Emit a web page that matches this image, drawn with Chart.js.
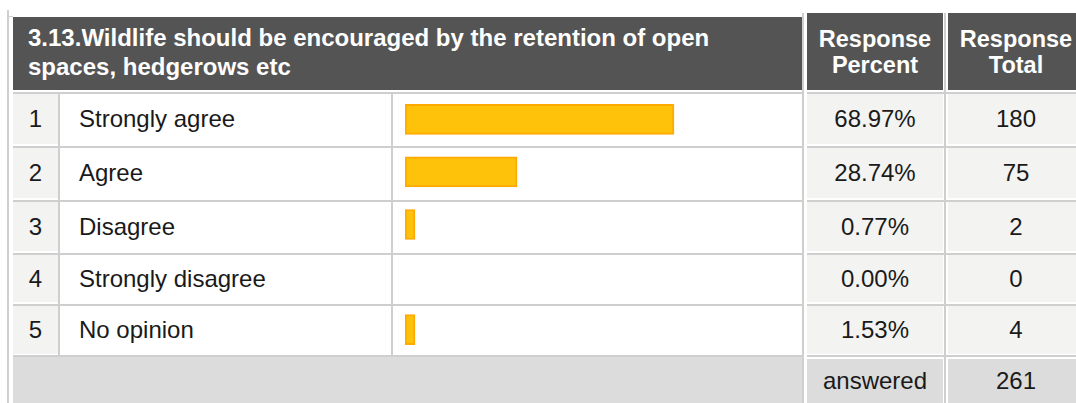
<!DOCTYPE html>
<html>
<head>
<meta charset="utf-8">
<title>3.13 Wildlife</title>
<script src="https://cdn.jsdelivr.net/npm/chart.js@4.4.1/dist/chart.umd.min.js"></script>
<style>
  html, body { margin: 0; padding: 0; background: #ffffff; }
  body { width: 1076px; height: 403px; overflow: hidden; position: relative;
         font-family: "Liberation Sans", Arial, sans-serif; color: #1a1a1a; }
  .abs { position: absolute; box-sizing: border-box; }
  .line { position: absolute; background: #cfcfcf; }
  .head { background: #545454; color: #ffffff; font-weight: bold; font-size: 23.5px; line-height: 26px; }
  .head-col { display: flex; align-items: center; justify-content: center; text-align: center; }
  .cell { display: flex; align-items: center; font-size: 24px; }
  .center { justify-content: center; }
  .grey { background: #f3f3f2; }
  .foot { background: #dcdcdc; }
  #bar-wrap { position: absolute; left: 393px; top: 93px; width: 410px; height: 263px; }
</style>
</head>
<body>
<div id="table"></div>
<div id="bar-wrap"><canvas id="chart-bars"></canvas></div>
<script>
'use strict';

// ---- datos de la pregunta ----
const questionTitle = ['3.13.Wildlife should be encouraged by the retention of open', 'spaces, hedgerows etc'];
const headerPercent = ['Response', 'Percent'];
const headerTotal = ['Response', 'Total'];
const answerLabels = ['Strongly agree', 'Agree', 'Disagree', 'Strongly disagree', 'No opinion'];
const responsePercents = [68.97, 28.74, 0.77, 0.00, 1.53];
const responseTotals = [180, 75, 2, 0, 4];
const answeredLabel = 'answered';
const answeredCount = 261;

// ---- layout de la tabla (px) ----
const rowTops = [94, 148, 202, 255, 306];
const rowHeights = [50, 50, 49, 47, 48];
const footTop = 357;

function addBox(cls, left, top, width, height, html) {
  const el = document.createElement('div');
  el.className = cls;
  el.style.left = left + 'px';
  el.style.top = top + 'px';
  el.style.width = width + 'px';
  el.style.height = height + 'px';
  if (html !== undefined) el.innerHTML = html;
  document.getElementById('table').appendChild(el);
  return el;
}

function construirTabla() {
  // bordes exteriores y separadores verticales
  addBox('line', 7, 10, 2, 393);
  addBox('line', 7, 16, 6, 1);
  addBox('line', 802, 13, 2, 390);
  addBox('line', 944, 13, 2, 390);

  // cabeceras
  const title = addBox('abs head', 13, 17, 789, 73, questionTitle.join('<br>'));
  title.style.padding = '6px 0 0 15px';
  title.style.fontSize = '24px';
  title.style.lineHeight = '29px';
  addBox('abs head head-col', 807, 13, 136, 77, headerPercent.join('<br>'));
  addBox('abs head head-col', 948, 13, 136, 77, headerTotal.join('<br>'));

  addBox('line', 13, 92, 789, 2);
  addBox('line', 807, 92, 277, 2);

  answerLabels.forEach(function (label, i) {
    const top = rowTops[i];
    const h = rowHeights[i];
    addBox('abs cell center grey', 13, top, 45, h, String(i + 1));
    addBox('line', 58, top - 1, 2, h + 3);
    const lab = addBox('abs cell', 62, top, 329, h, label);
    lab.style.paddingLeft = '17px';
    addBox('line', 391, top - 1, 2, h + 3);
    addBox('abs cell center grey', 807, top, 136, h, responsePercents[i].toFixed(2) + '%');
    addBox('abs cell center grey', 948, top, 136, h, String(responseTotals[i]));
    // linea inferior de la fila
    const next = i + 1 < rowTops.length ? rowTops[i + 1] : footTop;
    addBox('line', 13, next - 2, 789, 2);
    addBox('line', 807, next - 2, 277, 2);
  });

  // pie: respondidas
  addBox('abs foot', 13, footTop, 789, 403 - footTop);
  addBox('abs cell center foot', 807, footTop + 2, 136, 403 - footTop - 2, answeredLabel);
  addBox('abs cell center foot', 948, footTop + 2, 136, 403 - footTop - 2, String(answeredCount));
}

function dibujarBarras() {
  const canvas = document.getElementById('chart-bars');
  if (!canvas || typeof Chart === 'undefined') return;

  new Chart(canvas.getContext('2d'), {
    type: 'bar',
    data: {
      labels: answerLabels,
      datasets: [{
        data: responsePercents,
        backgroundColor: function (ctx) { return ctx.raw === 0 ? 'rgba(0,0,0,0)' : '#ffc20a'; },
        borderColor: function (ctx) { return ctx.raw === 0 ? 'rgba(0,0,0,0)' : '#ffaa00'; },
        borderWidth: function (ctx) { return ctx.raw === 0 ? 0 : 2; },
        borderSkipped: false,
        barThickness: 30,
        minBarLength: 10
      }]
    },
    options: {
      indexAxis: 'y',
      responsive: true,
      maintainAspectRatio: false,
      animation: false,
      layout: { padding: { left: 12, right: 8, top: 0, bottom: 0 } },
      scales: {
        x: { display: false, min: 0, max: 100 },
        y: { display: false }
      },
      plugins: { legend: { display: false }, tooltip: { enabled: false } }
    }
  });
}

construirTabla();
dibujarBarras();
</script>
</body>
</html>
